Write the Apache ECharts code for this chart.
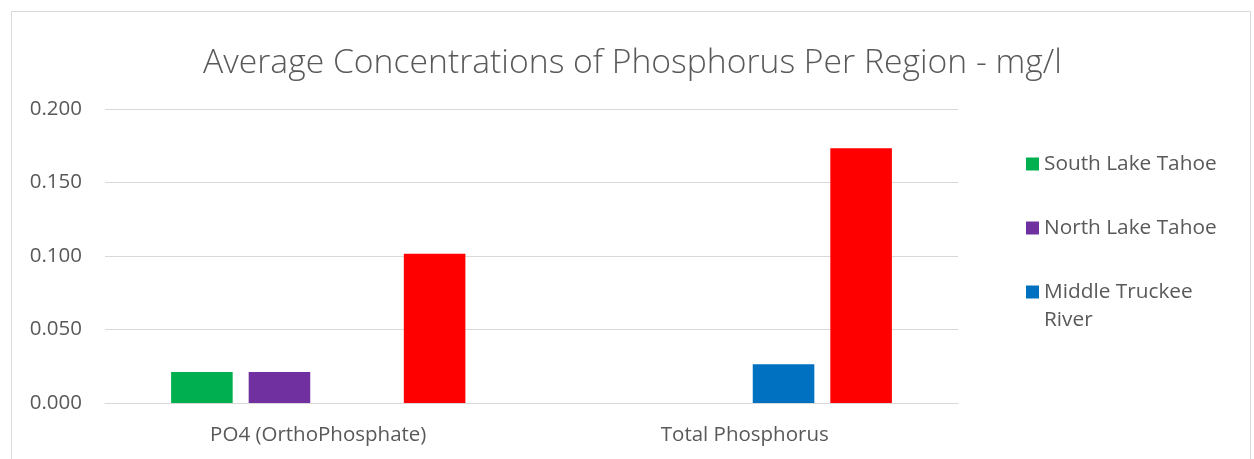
<!DOCTYPE html>
<html><head><meta charset="utf-8">
<script src="https://cdn.jsdelivr.net/npm/echarts@6/dist/echarts.min.js"></script>
<style>html,body{margin:0;padding:0;background:#fff}#c{width:1254px;height:459px}</style>
</head><body><div id="c"></div>
<script>
const categories = ["PO4 (OrthoPhosphate)", "Total Phosphorus"];
const southLakeTahoe = [0.0211, null];
const northLakeTahoe = [0.0211, null];
const middleTruckeeRiver = [null, 0.0264];
const otherRegion = [0.1016, 0.1733];
const seriesNames = ["South Lake Tahoe", "North Lake Tahoe", "Middle Truckee River", "Other"];
const colors = ["#00B050", "#7030A0", "#0070C0", "#FF0000"];
const yTicks = { min: 0, max: 0.2, interval: 0.05 };
const FONT = "'Open Sans', 'Noto Sans', sans-serif";

const chart = echarts.init(document.getElementById('c'), null, {renderer: 'canvas'});
const mk = (i, data) => ({
  name: seriesNames[i], type: 'bar', data: data,
  itemStyle: { color: colors[i] },
  barGap: '26%', barCategoryGap: '31%',
  emphasis: { disabled: true }
});
const legendText = { fontFamily: FONT, fontSize: 20.8, color: '#595959', lineHeight: 24 };
chart.setOption({
  animation: false,
  textStyle: { fontFamily: FONT },
  title: {
    text: 'Average Concentrations of Phosphorus Per Region - mg/l',
    left: 198, top: 41,
    textStyle: { fontFamily: FONT, fontWeight: 300, fontSize: 33.7, color: '#595959' }
  },
  legend: [{
    data: seriesNames.slice(0, 3),
    formatter: n => n === "Middle Truckee River" ? "Middle Truckee" : n,
    orient: 'vertical', left: 1021, top: 147,
    icon: 'rect', itemWidth: 13, itemHeight: 13, itemGap: 40,
    textStyle: legendText,
    selectedMode: false
  }, {
    data: [{ name: "Middle Truckee River", icon: 'none' }],
    formatter: () => "River",
    orient: 'vertical', left: 1021, top: 303,
    itemWidth: 13, itemHeight: 13,
    textStyle: legendText,
    selectedMode: false
  }],
  grid: { left: 105, right: 296, top: 109, bottom: 56 },
  xAxis: {
    type: 'category', data: categories,
    axisLine: { show: true, lineStyle: { color: '#d9d9d9', width: 1 } },
    axisTick: { show: false },
    axisLabel: { fontFamily: FONT, fontSize: 20.5, color: '#595959', margin: 22 }
  },
  yAxis: {
    type: 'value', min: yTicks.min, max: yTicks.max, interval: yTicks.interval,
    axisLine: { show: false }, axisTick: { show: false },
    splitLine: { lineStyle: { color: '#d9d9d9', width: 1 } },
    axisLabel: { fontFamily: FONT, fontSize: 20.5, color: '#595959', margin: 23,
      formatter: v => v.toFixed(3) }
  },
  series: [
    mk(0, southLakeTahoe), mk(1, northLakeTahoe), mk(2, middleTruckeeRiver), mk(3, otherRegion)
  ],
  graphic: [
    { type: 'rect', shape: { x: 11.5, y: 11.5, width: 1239, height: 600 },
      style: { fill: 'none', stroke: '#d9d9d9', lineWidth: 1 }, silent: true }
  ]
});
</script></body></html>
